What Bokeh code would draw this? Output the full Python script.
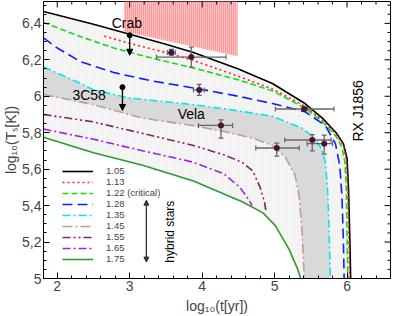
from bokeh.plotting import figure
from bokeh.models import (Range1d, FixedTicker, Legend, LegendItem, Label,
                          Arrow, NormalHead, CustomJSTickFormatter)
from bokeh.embed import file_html
from bokeh.resources import INLINE

FONT = "Liberation Sans"

# ---- cooling curves (log10 t [yr], log10 Ts [K]) ----
m105_x = [1.81, 2.5, 3.0, 3.5, 3.88, 4.5, 4.97, 5.42, 5.66, 5.85, 5.95, 6.0, 6.02, 6.04, 6.05]
m105_y = [6.465, 6.395, 6.34, 6.285, 6.24, 6.15, 6.07, 5.96, 5.88, 5.80, 5.74, 5.66, 5.5, 5.2, 5.0]
m113_x = [2.65, 3.0, 3.5, 3.85, 4.5, 4.97, 5.42, 5.66, 5.85, 5.95, 5.99, 6.01, 6.025, 6.035]
m113_y = [6.33, 6.29, 6.24, 6.2, 6.11, 6.04, 5.945, 5.87, 5.79, 5.73, 5.65, 5.5, 5.2, 5.0]
m122_x = [1.81, 2.3, 2.78, 3.3, 3.88, 4.5, 4.97, 5.42, 5.66, 5.85, 5.93, 5.97, 5.99, 6.0, 6.01]
m122_y = [6.405, 6.33, 6.265, 6.21, 6.155, 6.09, 6.03, 5.935, 5.86, 5.78, 5.72, 5.64, 5.5, 5.25, 5.0]
m128_x = [1.81, 2.0, 2.32, 2.78, 3.3, 3.96, 4.5, 4.97, 5.42, 5.7, 5.84, 5.9, 5.93, 5.95, 5.96]
m128_y = [6.32, 6.265, 6.19, 6.13, 6.085, 6.04, 6.0, 5.96, 5.915, 5.84, 5.74, 5.62, 5.45, 5.2, 5.0]
m135_x = [1.81, 2.27, 2.5, 3.0, 3.86, 4.5, 4.97, 5.38, 5.55, 5.65, 5.7, 5.73, 5.75, 5.77]
m135_y = [6.16, 6.08, 6.035, 5.99, 5.955, 5.92, 5.89, 5.825, 5.77, 5.71, 5.64, 5.5, 5.3, 5.0]
m145_x = [1.81, 2.49, 3.18, 3.86, 4.26, 4.7, 4.97, 5.15, 5.28, 5.34, 5.38, 5.41]
m145_y = [6.01, 5.955, 5.88, 5.84, 5.81, 5.77, 5.73, 5.665, 5.57, 5.45, 5.25, 5.0]
m155_x = [1.81, 2.49, 3.19, 3.88, 4.33, 4.56, 4.7, 4.8, 4.86, 4.88]
m155_y = [5.90, 5.86, 5.795, 5.73, 5.675, 5.635, 5.59, 5.5, 5.42, 5.37]
m165_x = [1.81, 2.49, 3.19, 3.86, 4.3, 4.52, 4.63, 4.69]
m165_y = [5.82, 5.765, 5.70, 5.64, 5.575, 5.50, 5.44, 5.40]
m175_x = [1.81, 2.5, 3.19, 3.88, 4.56, 4.84, 5.01, 5.2, 5.32, 5.36]
m175_y = [5.775, 5.69, 5.62, 5.535, 5.42, 5.36, 5.29, 5.16, 5.05, 5.0]

labels = ["1.05", "1.13", "1.22 (critical)", "1.28", "1.35", "1.45", "1.55", "1.65", "1.75"]

# ---- observations ----
obs_x = [3.575, 3.85, 3.96, 4.26, 5.41, 5.52, 5.685, 5.03]
obs_y = [6.24, 6.215, 6.035, 5.84, 5.93, 5.76, 5.74, 5.716]
obs_xlo = [3.52, 3.37, 3.88, 3.95, 5.01, 5.14, 5.45, 4.74]
obs_xhi = [3.63, 4.33, 4.03, 4.42, 5.82, 5.78, 5.80, 5.34]
obs_ylo = [6.225, 6.16, 6.005, 5.77, 5.92, 5.70, 5.683, 5.672]
obs_yhi = [6.257, 6.27, 6.065, 5.87, 5.94, 5.79, 5.787, 5.743]

lim_x = [3.0, 2.90]          # Crab, 3C58 upper limits
lim_y = [6.335, 6.05]
lim_to = [6.225, 5.922]

pink_x = [2.92, 4.49, 4.49, 2.92]
pink_y = [6.52, 6.52, 6.22, 6.355]

x_major = [2, 3, 4, 5, 6]
x_minor = [1.8, 2.2, 2.4, 2.6, 2.8, 3.2, 3.4, 3.6, 3.8, 4.2, 4.4, 4.6, 4.8,
           5.2, 5.4, 5.6, 5.8, 6.2, 6.4]
y_major = [5.0, 5.2, 5.4, 5.6, 5.8, 6.0, 6.2, 6.4]
y_minor = [5.05, 5.1, 5.15, 5.25, 5.3, 5.35, 5.45, 5.5, 5.55, 5.65, 5.7, 5.75,
           5.85, 5.9, 5.95, 6.05, 6.1, 6.15, 6.25, 6.3, 6.35, 6.45, 6.5]

X0, X1, Y0, Y1 = 1.81, 6.6, 5.0, 6.52
W, H = 391, 316
BL, BR, BT, BB = 41, 1, 1, 38

p = figure(width=W, height=H, output_backend="svg", toolbar_location=None,
           x_range=Range1d(X0, X1), y_range=Range1d(Y0, Y1),
           min_border_left=BL, min_border_right=BR, min_border_top=BT, min_border_bottom=BB)
p.grid.visible = False
p.outline_line_color = "black"
p.outline_line_width = 1
p.background_fill_color = "white"

# shaded regions
p.patch(m105_x + m175_x[::-1], m105_y + m175_y[::-1], fill_color="#f6f6f6",
        hatch_pattern="|", hatch_color="#e4e4e4", hatch_scale=2, hatch_weight=0.6,
        line_color=None)
p.patch(m135_x + m145_x[::-1], m135_y + m145_y[::-1], fill_color="#d9d9d9", line_color=None)
p.patch(pink_x, pink_y, fill_color="#ffc4c4", hatch_pattern="|", hatch_color="#ff6a6a",
        hatch_scale=2, hatch_weight=1, line_color=None)

styles = [
    (m105_x, m105_y, "black", "solid", 1.6),
    (m113_x, m113_y, "#ff2020", "2 3", 1.6),
    (m122_x, m122_y, "#11dd11", "6 3", 1.6),
    (m128_x, m128_y, "#1020ee", "10 5", 1.6),
    (m135_x, m135_y, "#00e8f0", "8 3 2 3", 1.6),
    (m145_x, m145_y, "#c49a9a", "10 3 2 3", 1.6),
    (m155_x, m155_y, "#86206a", "8 3 2 3 2 3", 1.6),
    (m165_x, m165_y, "#a020e0", "8 3 2 3", 1.6),
    (m175_x, m175_y, "#2f9a2f", "solid", 1.6),
]
items = []
for (xs, ys, c, d, w), lab in zip(styles, labels):
    r = p.line(xs, ys, line_color=c, line_dash=d, line_width=w)
    items.append(LegendItem(label=lab, renderers=[r]))

# error bars
ec = "#666666"
p.segment(obs_xlo, obs_y, obs_xhi, obs_y, line_color=ec, line_width=1.3)
p.segment(obs_x, obs_ylo, obs_x, obs_yhi, line_color=ec, line_width=1.3)
p.scatter(obs_xlo + obs_xhi, obs_y + obs_y, marker="dash", angle=1.5708, size=5,
          line_color=ec, line_width=1.2)
p.scatter(obs_x + obs_x, obs_ylo + obs_yhi, marker="dash", size=5,
          line_color=ec, line_width=1.2)
p.scatter(obs_x, obs_y, size=5.5, fill_color="#5a0a3c", line_color="#222222", line_width=0.6)

# upper limit arrows
for x0, y0, y1 in zip(lim_x, lim_y, lim_to):
    p.add_layout(Arrow(x_start=x0, y_start=y0, x_end=x0, y_end=y1, line_width=1.3,
                       line_color="black",
                       end=NormalHead(size=6, fill_color="black", line_color="black")))
p.scatter(lim_x, lim_y, size=5, fill_color="black", line_color="black")

# hybrid stars arrow
p.add_layout(Arrow(x_start=3.23, y_start=5.09, x_end=3.23, y_end=5.43, line_width=1.3,
                   line_color="#333333",
                   start=NormalHead(size=5, fill_color="#333333", line_color="#333333"),
                   end=NormalHead(size=5, fill_color="#333333", line_color="#333333")))

def lab(x, y, t, size="14px", angle=0.0):
    p.add_layout(Label(x=x, y=y, text=t, text_font=FONT, text_font_size=size,
                       text_align="center", text_baseline="middle", angle=angle,
                       text_color="black"))

lab(2.96, 6.40, "Crab")
lab(2.44, 6.005, "3C58")
lab(3.85, 5.90, "Vela")
lab(6.15, 5.92, "RX J1856", angle=1.5708)
lab(3.56, 5.257, "hybrid stars", size="12px", angle=1.5708)

legend = Legend(items=items, location=(19, 14), glyph_width=31, glyph_height=10,
                label_height=10, spacing=0, label_standoff=13, padding=0, margin=0,
                background_fill_alpha=0, border_line_alpha=0,
                label_text_font=FONT, label_text_font_size="9.5px")
p.add_layout(legend)

# axes (bottom / left)
fmt = CustomJSTickFormatter(code="var s=(Math.round(tick*10)/10).toString(); return s.replace('.', ',');")
for ax in p.xaxis:
    ax.ticker = FixedTicker(ticks=x_major, minor_ticks=x_minor)
    ax.axis_label = "log₁₀(t[yr])"
    ax.major_label_standoff = 2
    ax.axis_label_standoff = 4
for ax in p.yaxis:
    ax.ticker = FixedTicker(ticks=y_major, minor_ticks=y_minor)
    ax.formatter = fmt
    ax.axis_label = "log₁₀(Tₛ[K])"
    ax.major_label_standoff = 2
    ax.axis_label_standoff = 0
for ax in list(p.xaxis) + list(p.yaxis):
    ax.major_tick_in = 6
    ax.major_tick_out = 0
    ax.minor_tick_in = 3
    ax.minor_tick_out = 0
    ax.major_label_text_font = FONT
    ax.major_label_text_font_size = "14px"
    ax.axis_label_text_font = FONT
    ax.axis_label_text_font_size = "14px"
    ax.axis_label_text_font_style = "normal"
    ax.axis_line_color = "black"

# mirrored ticks on top and right edges (pixel lengths converted to data units)
fw, fh = W - BL - BR, H - BT - BB
dx = (X1 - X0) / fw
dy = (Y1 - Y0) / fh
p.segment(x_major, [Y1] * len(x_major), x_major, [Y1 - 6 * dy] * len(x_major), line_color="black")
p.segment(x_minor, [Y1] * len(x_minor), x_minor, [Y1 - 3 * dy] * len(x_minor), line_color="black")
p.segment([X1] * len(y_major), y_major, [X1 - 6 * dx] * len(y_major), y_major, line_color="black")
p.segment([X1] * len(y_minor), y_minor, [X1 - 3 * dx] * len(y_minor), y_minor, line_color="black")

open("out.html", "w").write(file_html(p, INLINE))
